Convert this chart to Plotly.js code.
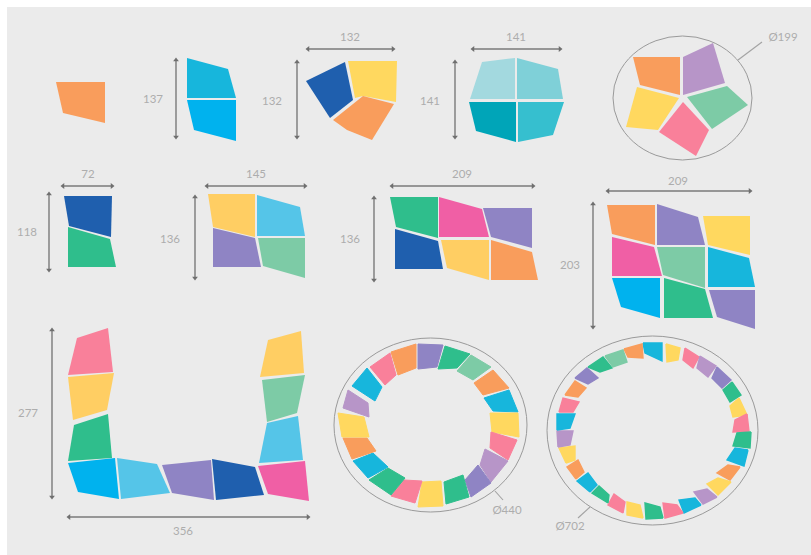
<!DOCTYPE html>
<html><head><meta charset="utf-8">
<script src="https://cdn.plot.ly/plotly-3.0.1.min.js"></script>
<style>html,body{margin:0;padding:0;background:#fff}#c{width:811px;height:555px}</style>
</head><body><div id="c"></div>
<script>
const palette = {
  orange:'#F99D5C', sky:'#17B6DC', azure:'#00B2EE', navy:'#1F5FAE', yellow:'#FFD85F', amber:'#FFCE63',
  ice:'#A3D9DF', aqua:'#7FD0D8', deep:'#00A5B8', teal:'#36BFCF', lilac:'#B795C8', mint:'#7DCBA6',
  rose:'#F9809A', green:'#2FBE8C', cyan:'#55C5E8', indigo:'#8F84C4', magenta:'#F05FA5'
};

// Each piece: colour name, then x,y pairs
const single = [['orange',56,82,105,82,105,123,63,113]];
const pair137 = [
  ['sky',187,58,228,69,236,98,187,98],
  ['azure',187,100,236,100,236,141,194,130]];
const trio132 = [
  ['navy',306,81,345,62,353,100,330,118],
  ['yellow',348,61,397,61,396,102,363,96,355,98],
  ['orange',333,120,363,96,394,104,372,140,347,130]];
const quad141 = [
  ['ice',482,62,515,58,515,99,470,99],
  ['aqua',517,58,558,69,563,99,517,99],
  ['deep',469,102,516,102,516,142,476,131],
  ['teal',518,102,564,102,553,135,518,142]];
const penta199 = [
  ['orange',633,57,680,57,680,95,640,85],
  ['lilac',683,57,713,43,725,83,683,95],
  ['mint',687,97,727,86,748,105,712,129],
  ['rose',683,102,709,130,696,156,659,132],
  ['yellow',637,87,679,98,658,130,626,127]];
const pair72 = [
  ['navy',64,196,112,196,111,237,69,226],
  ['green',68,227,110,239,116,267,68,267]];
const quad145 = [
  ['amber',208,194,255,194,255,237,213,227],
  ['cyan',257,195,300,207,305,236,257,236],
  ['indigo',213,228,255,238,261,267,213,267],
  ['mint',258,238,305,238,305,278,263,266]];
const six209 = [
  ['green',390,197,438,197,438,238,396,227],
  ['magenta',439,197,482,209,489,237,439,237],
  ['indigo',483,208,532,208,532,248,491,237],
  ['navy',395,229,438,241,443,269,395,269],
  ['amber',441,240,489,240,489,280,447,268],
  ['orange',491,240,532,252,538,280,491,280]];
const nine209 = [
  ['orange',607,205,655,205,655,245,612,234],
  ['indigo',657,204,698,217,705,245,657,245],
  ['yellow',703,216,750,216,750,255,708,245],
  ['magenta',612,237,654,247,662,276,612,276],
  ['mint',657,247,705,247,705,288,663,275],
  ['sky',708,247,749,258,755,287,708,287],
  ['azure',612,278,660,278,660,318,621,307],
  ['green',664,278,705,289,713,318,664,318],
  ['indigo',709,290,755,290,755,329,717,317]];
const chain356 = [
  ['rose',77,338,108,328,113,372,68,375],
  ['amber',68,377,114,373,107,410,73,420],
  ['green',74,425,108,414,112,458,68,461],
  ['azure',68,463,115,458,119,499,78,492],
  ['cyan',117,458,157,464,170,493,121,499],
  ['indigo',162,465,211,460,214,500,172,493],
  ['navy',212,459,255,467,264,495,216,500],
  ['magenta',258,466,305,461,309,501,268,494],
  ['cyan',267,423,298,416,303,460,259,463],
  ['mint',262,380,305,375,297,413,267,422],
  ['amber',268,340,301,331,304,373,260,377]];
const ring440 = [
  ['indigo',418,344,443,345,437,367,418,369],
  ['green',445,346,470,354,457,368,438,369],
  ['mint',471,355,491,367,473,380,457,371],
  ['orange',493,370,509,388,483,395,474,383],
  ['sky',509,390,518,412,493,411,484,398],
  ['yellow',518,413,519,437,492,432,490,413],
  ['rose',517,440,508,460,490,448,491,432],
  ['lilac',508,461,491,482,480,465,485,449],
  ['indigo',491,483,471,497,465,480,478,465],
  ['green',469,497,446,504,444,482,463,475],
  ['yellow',443,506,418,507,422,482,441,481],
  ['rose',415,503,391,496,404,480,422,481],
  ['green',391,495,369,480,388,468,405,478],
  ['sky',368,478,353,461,373,453,388,467],
  ['orange',352,459,343,438,367,438,376,451],
  ['yellow',342,437,338,413,364,417,369,437],
  ['lilac',343,408,348,390,368,403,369,417],
  ['sky',352,386,367,368,382,387,375,401],
  ['rose',370,367,390,353,396,375,385,385],
  ['orange',391,352,416,344,416,368,398,375]];
const ring702 = [
  ['sky',643,343,662,343,662,361,645,353],
  ['yellow',666,344,680,348,678,360,667,362],
  ['rose',685,348,699,357,693,368,683,360],
  ['lilac',700,356,716,366,708,377,697,368],
  ['indigo',717,367,731,380,722,388,712,378],
  ['green',732,382,741,395,730,402,723,390],
  ['yellow',739,398,747,415,733,417,730,406],
  ['rose',747,414,749,431,733,432,735,420],
  ['green',751,432,750,448,733,446,737,433],
  ['sky',748,450,744,466,727,460,735,448],
  ['orange',740,467,730,480,717,473,728,465],
  ['yellow',731,482,718,495,707,484,718,478],
  ['lilac',717,497,703,504,694,492,707,489],
  ['sky',701,505,684,513,679,500,695,498],
  ['rose',683,513,665,518,663,503,677,505],
  ['green',663,518,646,519,645,503,660,507],
  ['yellow',643,518,627,515,627,502,640,505],
  ['rose',623,513,608,505,614,494,625,502],
  ['green',608,503,592,493,599,486,609,495],
  ['sky',590,492,577,481,588,473,597,485],
  ['orange',576,479,567,467,578,460,584,472],
  ['yellow',566,463,559,448,575,446,575,460],
  ['lilac',558,447,557,431,573,431,570,445],
  ['sky',557,430,557,414,575,414,570,428],
  ['rose',559,412,563,398,579,402,573,412],
  ['orange',565,395,575,381,586,388,578,397],
  ['indigo',575,378,587,368,598,378,588,384],
  ['green',588,367,603,357,612,368,600,372],
  ['mint',605,356,623,350,627,362,613,367],
  ['orange',624,349,642,344,643,358,628,357]];

// Dimension lines: x0,y0,x1,y1
const dimensions = [
  [176,60,176,137],[308,49,393,49],[297,62,297,137],[473,49,560,49],[455,62,455,137],
  [63,186,112,186],[49,194,49,270],[207,186,305,186],[195,197,195,278],
  [392,186,533,186],[374,198,374,280],[608,191,750,191],[593,204,593,327],
  [52,330,52,497],[69,517,308,517]];
// Leader lines from circles to their labels: x0,y0,x1,y1
const leaders = [[738,60,762,42],[495,491,503,500],[590,507,578,518]];
// Circle outlines: x0,y0,x1,y1
const circles = [[613,36,752,160],[334,338,527,512],[547,336,758,525]];

const labelText = ['137','132','132','141','141','Ø199','72','118','145','136','209','136','209','203','277','356','Ø440','Ø702'];
const labelX = [153,350,272,516,430,783,88,27,256,170,462,350,678,570,28,183,507,570];
const labelY = [100,38,102,38,102,38,175,233,175,240,175,240,182,266,414,532,511,527];

function addPieces(list, strokeWidth, traces) {
  list.forEach(p => {
    const xs = [], ys = [];
    for (let i = 1; i < p.length; i += 2) { xs.push(p[i]); ys.push(p[i+1]); }
    xs.push(p[1]); ys.push(p[2]);
    traces.push({type:'scatter',mode:'lines',x:xs,y:ys,fill:'toself',fillcolor:palette[p[0]],
      line:{color:palette[p[0]],width:strokeWidth},hoverinfo:'skip',showlegend:false});
  });
}
const traces = [];
addPieces([single,pair137,trio132,quad141,penta199,pair72,quad145,six209,nine209,chain356].flat(), 0, traces);
addPieces(ring440, 1, traces);
addPieces(ring702, 1.4, traces);
dimensions.forEach(d => {
  const horiz = d[1] === d[3];
  traces.push({type:'scatter',mode:'lines+markers',x:[d[0],d[2]],y:[d[1],d[3]],
    line:{color:'#7a7a7a',width:1.4},
    marker:{color:'#6f6f6f',size:5,symbol:horiz?['triangle-left','triangle-right']:['triangle-up','triangle-down']},
    hoverinfo:'skip',showlegend:false});
});
leaders.forEach(d => traces.push({type:'scatter',mode:'lines',x:[d[0],d[2]],y:[d[1],d[3]],
  line:{color:'#a2a2a2',width:1.1},hoverinfo:'skip',showlegend:false}));
traces.push({type:'scatter',mode:'text',x:labelX,y:labelY,text:labelText,textposition:'middle center',
  textfont:{family:'Lato, sans-serif',size:11.5,color:'#adadad'},hoverinfo:'skip',showlegend:false});

const shapes = circles.map(c => ({type:'circle',xref:'x',yref:'y',x0:c[0],y0:c[1],x1:c[2],y1:c[3],
  line:{color:'#9a9a9a',width:1},layer:'above'}));

const hidden = {visible:false,fixedrange:true};
Plotly.newPlot('c',traces,{
  width:811,height:555,margin:{l:7,r:0,t:7,b:0,pad:0},
  paper_bgcolor:'#ffffff',plot_bgcolor:'#EBEBEB',showlegend:false,
  xaxis:Object.assign({range:[7,811]},hidden),
  yaxis:Object.assign({range:[555,7]},hidden),
  shapes:shapes
},{displayModeBar:false,staticPlot:true});
</script></body></html>
